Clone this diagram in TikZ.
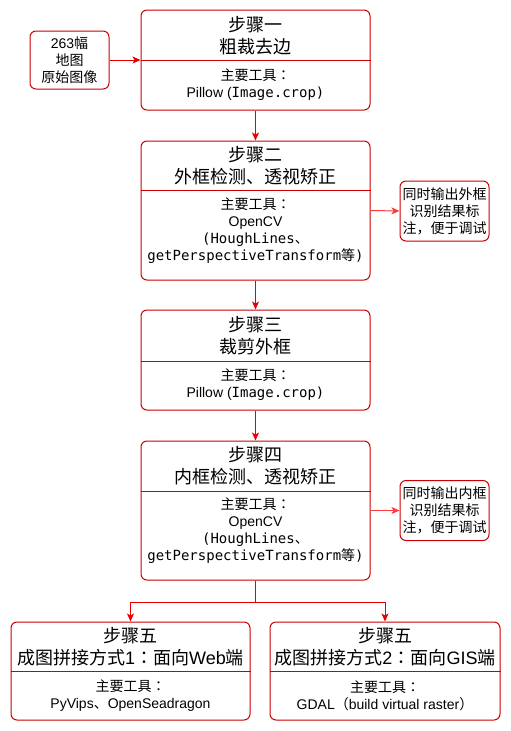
\documentclass[tikz,border=0pt]{standalone}
\usepackage{fontspec}
\setmainfont{Liberation Sans}
\setmonofont{DejaVu Sans Mono}
\newfontfamily\cjk{Noto Sans CJK SC}
\newfontfamily\cjktc{Noto Sans CJK TC}
\newcommand{\qcolon}{{\cjktc ：}}
\usetikzlibrary{arrows.meta}
\definecolor{boxred}{RGB}{204,0,0}
\definecolor{arrred}{RGB}{230,0,0}
\definecolor{sidered}{RGB}{250,60,60}
\begin{document}
\begin{tikzpicture}[x=1pt,y=-1pt,
  box/.style={draw=boxred, line width=1pt, rounded corners=6pt, fill=white, inner sep=0pt},
  divider/.style={draw=boxred, line width=1pt},
  arr/.style={draw=arrred, line width=1pt, -{Stealth[length=8pt,width=7pt,inset=2pt]}},
  sidearr/.style={draw=sidered, line width=1pt, -{Stealth[length=8pt,width=7pt,inset=2pt]}},
  title/.style={align=center, font=\fontsize{18}{22}\selectfont, inner sep=0pt},
  body/.style={align=center, font=\fontsize{14}{17}\selectfont, inner sep=0pt},
]
\useasboundingbox (0,0) rectangle (511,731);

% boxes
\node[box, minimum width=79pt, minimum height=58pt] (in) at (69.5,60) {};
\node[box, minimum width=229pt, minimum height=100pt] (s1) at (255.5,60) {};
\node[box, minimum width=229pt, minimum height=139pt] (s2) at (255.5,210.5) {};
\node[box, minimum width=89pt, minimum height=60pt] (n1) at (444.5,211) {};
\node[box, minimum width=229pt, minimum height=100pt] (s3) at (255.5,360) {};
\node[box, minimum width=229pt, minimum height=139pt] (s4) at (255.5,510.5) {};
\node[box, minimum width=89pt, minimum height=60pt] (n2) at (444.5,510.5) {};
\node[box, minimum width=239pt, minimum height=98pt] (s5a) at (130.5,671) {};
\node[box, minimum width=230pt, minimum height=98pt] (s5b) at (385,671) {};

% dividers
\draw[divider] (s1.west |- 0,60) -- (s1.east |- 0,60);
\draw[divider] (s2.west |- 0,190) -- (s2.east |- 0,190);
\draw[divider] (s3.west |- 0,361) -- (s3.east |- 0,361);
\draw[divider] (s4.west |- 0,491) -- (s4.east |- 0,491);
\draw[divider] (s5a.west |- 0,671) -- (s5a.east |- 0,671);
\draw[divider] (s5b.west |- 0,671) -- (s5b.east |- 0,671);

% texts
\node[body] (tin) at (69.5,60) {263{\cjk 幅}\\{\cjk 地图}\\{\cjk 原始图像}};

\node[title] (t1) at (255.5,35.5) {{\cjk 步骤一}\\{\cjk 粗裁去边}};
\node[body] (b1) at (255.5,84.5) {{\cjk 主要工具}\qcolon\\Pillow ({\ttfamily Image.crop)}};

\node[title] (t2) at (255.5,166) {{\cjk 步骤二}\\{\cjk 外框检测、透视矫正}};
\node[body] (b2) at (255.5,230.5) {{\cjk 主要工具}\qcolon\\OpenCV\\{\ttfamily (HoughLines}{\cjk 、}\\{\ttfamily getPerspectiveTransform}{\cjk 等}{\ttfamily )}};
\node[body] (tn1) at (444.5,211) {{\cjk 同时输出外框}\\{\cjk 识别结果标}\\{\cjk 注，便于调试}};

\node[title] (t3) at (255.5,335.5) {{\cjk 步骤三}\\{\cjk 裁剪外框}};
\node[body] (b3) at (255.5,384.5) {{\cjk 主要工具}\qcolon\\Pillow ({\ttfamily Image.crop)}};

\node[title] (t4) at (255.5,466) {{\cjk 步骤四}\\{\cjk 内框检测、透视矫正}};
\node[body] (b4) at (255.5,531) {{\cjk 主要工具}\qcolon\\OpenCV\\{\ttfamily (HoughLines}{\cjk 、}\\{\ttfamily getPerspectiveTransform}{\cjk 等}{\ttfamily )}};
\node[body] (tn2) at (444.5,510.5) {{\cjk 同时输出内框}\\{\cjk 识别结果标}\\{\cjk 注，便于调试}};

\node[title] (t5a) at (130.5,646.5) {{\cjk 步骤五}\\{\cjk 成图拼接方式}1\qcolon{\cjk 面向}Web{\cjk 端}};
\node[body] (b5a) at (130.5,695.5) {{\cjk 主要工具}\qcolon\\PyVips{\cjk 、}OpenSeadragon};

\node[title] (t5b) at (385,646.5) {{\cjk 步骤五}\\{\cjk 成图拼接方式}2\qcolon{\cjk 面向}GIS{\cjk 端}};
\node[body] (b5b) at (385,695.5) {{\cjk 主要工具}\qcolon\\GDAL{\cjk （}build virtual raster{\cjk ）}};

% connectors
\draw[arr] (in.east) -- (s1.west);
\draw[arr] (s1.south) -- (s2.north);
\draw[sidearr] (s2.east) -- (n1.west);
\draw[arr] (s2.south) -- (s3.north);
\draw[arr] (s3.south) -- (s4.north);
\draw[sidearr] (s4.east) -- (n2.west);
\draw[arr] (s4.south) -- ++(0,21.5) -| (s5a.north);
\draw[arr] (s4.south) -- ++(0,21.5) -| (s5b.north);
\end{tikzpicture}
\end{document}
